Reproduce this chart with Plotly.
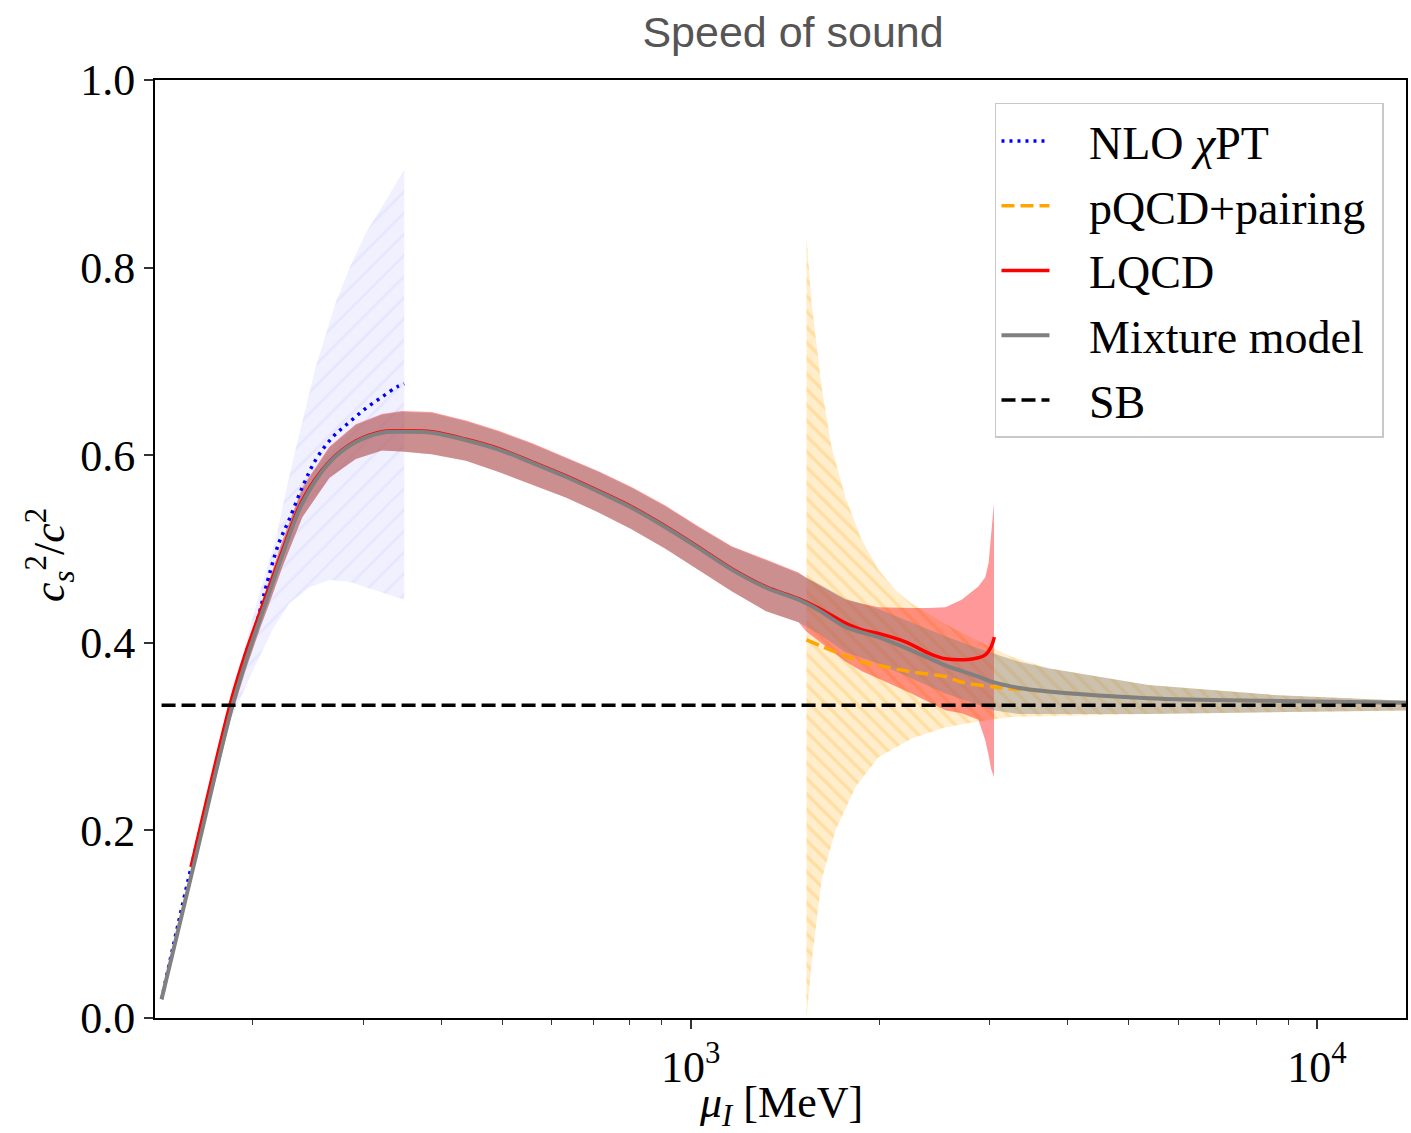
import math
import plotly.graph_objects as go

# ---------------- data ----------------
# NLO chiral perturbation theory
nlo_mu = [143, 160, 186, 195, 202, 206, 210, 220, 228.5, 240, 252, 268, 285, 303, 321.5, 340, 349]
nlo_cs2 = [0.020, 0.165, 0.339, 0.389, 0.417, 0.438, 0.460, 0.506, 0.531, 0.566, 0.595, 0.619, 0.635, 0.650, 0.662, 0.673, 0.676]
nlo_up_mu = [143, 160, 185, 195, 205, 218, 226, 234, 243, 252, 262, 272, 287, 303, 325, 349]
nlo_upper = [0.020, 0.170, 0.345, 0.400, 0.453, 0.512, 0.562, 0.606, 0.650, 0.694, 0.730, 0.765, 0.803, 0.837, 0.870, 0.904]
nlo_lo_mu = [143, 160, 185, 200, 215, 228.5, 246, 265, 285, 321, 349]
nlo_lower = [0.020, 0.160, 0.320, 0.370, 0.414, 0.442, 0.459, 0.467, 0.465, 0.454, 0.446]

# pQCD + pairing
pq_mu = [1531, 1874, 1994, 2252, 2551, 2708, 3043, 3250, 3724, 5377, 8667, 14000]
pq_cs2 = [0.403, 0.380, 0.376, 0.369, 0.364, 0.358, 0.353, 0.351, 0.348, 0.341, 0.338, 0.336]
pq_up_mu = [1531, 1560, 1618, 1678, 1767, 1874, 1995, 2123, 2252, 2551, 2880, 3250, 3724, 5377, 8667, 14000]
pq_upper = [0.832, 0.762, 0.673, 0.609, 0.555, 0.510, 0.478, 0.456, 0.442, 0.420, 0.402, 0.385, 0.373, 0.355, 0.344, 0.338]
pq_lo_mu = [1531, 1560, 1618, 1703, 1832, 1995, 2252, 2551, 2880, 3250, 5377, 8667, 14000]
pq_lower = [0.000, 0.059, 0.147, 0.200, 0.246, 0.278, 0.298, 0.310, 0.316, 0.321, 0.324, 0.326, 0.328]

# Lattice QCD
lq_mu = [159.4, 185, 195, 206, 212, 223, 240, 265, 292, 321.5, 346, 386, 438, 494, 558, 632, 713, 805, 913, 1030,
         1163, 1317, 1487, 1600, 1767, 1874, 1994, 2203, 2397, 2551, 2746, 2880, 2954, 3020, 3054]
lq_cs2 = [0.161, 0.340, 0.390, 0.435, 0.458, 0.498, 0.552, 0.593, 0.615, 0.625, 0.626, 0.625, 0.617, 0.607, 0.593, 0.578, 0.562, 0.545, 0.524, 0.502,
          0.479, 0.460, 0.447, 0.437, 0.421, 0.414, 0.410, 0.401, 0.389, 0.383, 0.382, 0.384, 0.387, 0.396, 0.406]
lq_band_mu = [159.4, 185, 195, 206, 212, 223, 240, 265, 292, 321.5, 346, 386, 438, 494, 558, 632, 713, 805, 913,
              1030, 1163, 1317, 1487, 1530, 1767, 1874, 1994, 2252, 2397, 2551, 2708, 2880, 2954, 2990, 3020, 3050]
lq_upper = [0.166, 0.346, 0.393, 0.440, 0.466, 0.509, 0.566, 0.609, 0.633, 0.644, 0.647, 0.646, 0.637, 0.626, 0.613, 0.598, 0.583, 0.566, 0.546,
            0.524, 0.503, 0.489, 0.475, 0.469, 0.446, 0.442, 0.438, 0.437, 0.437, 0.438, 0.446, 0.460, 0.470, 0.485, 0.515, 0.549]
lq_lower = [0.157, 0.323, 0.372, 0.418, 0.440, 0.481, 0.534, 0.576, 0.596, 0.605, 0.604, 0.601, 0.594, 0.582, 0.569, 0.555, 0.539, 0.521, 0.500,
            0.478, 0.455, 0.434, 0.422, 0.412, 0.380, 0.370, 0.362, 0.346, 0.337, 0.328, 0.325, 0.318, 0.296, 0.280, 0.265, 0.257]

# Mixture model
mix_mu = [143, 161, 185, 195, 206, 212, 223, 240, 265, 292, 321.5, 346, 386, 438, 494, 558, 632, 713, 805, 913,
          1030, 1163, 1317, 1487, 1600, 1767, 1994, 2252, 2551, 2880, 3043, 3335, 3724, 5377, 8667, 14000]
mix_cs2 = [0.020, 0.163, 0.330, 0.381, 0.428, 0.452, 0.494, 0.549, 0.592, 0.614, 0.624, 0.625, 0.624, 0.616, 0.606, 0.592, 0.577, 0.561, 0.544, 0.523,
           0.501, 0.478, 0.459, 0.446, 0.435, 0.417, 0.406, 0.392, 0.376, 0.364, 0.358, 0.352, 0.348, 0.341, 0.338, 0.336]
mix_upper = [0.020, 0.166, 0.337, 0.390, 0.438, 0.464, 0.507, 0.564, 0.608, 0.632, 0.643, 0.646, 0.645, 0.636, 0.625, 0.612, 0.597, 0.582, 0.565, 0.545,
             0.523, 0.502, 0.488, 0.474, 0.463, 0.447, 0.436, 0.422, 0.407, 0.394, 0.389, 0.380, 0.373, 0.355, 0.344, 0.338]
mix_lower = [0.020, 0.160, 0.323, 0.372, 0.418, 0.440, 0.481, 0.534, 0.576, 0.596, 0.605, 0.604, 0.601, 0.594, 0.582, 0.569, 0.555, 0.539, 0.521, 0.500,
             0.478, 0.455, 0.434, 0.422, 0.410, 0.390, 0.378, 0.362, 0.346, 0.334, 0.328, 0.324, 0.324, 0.324, 0.326, 0.328]

# Stefan-Boltzmann limit
sb_mu = [143, 14000]
sb_cs2 = [0.3333, 0.3333]

x_range_mu = [139.6, 13870]
y_range = [0.0, 1.0]
y_ticks = [0.0, 0.2, 0.4, 0.6, 0.8, 1.0]
x_major = [1000, 10000]
x_major_text = ["10<sup>3</sup>", "10<sup>4</sup>"]
x_minor = [200, 300, 400, 500, 600, 700, 800, 900, 2000, 3000, 4000, 5000, 6000, 7000, 8000, 9000]


# ---------------- figure ----------------
def band(xu, yu, xl, yl):
    return list(xu) + list(xl)[::-1], list(yu) + list(yl)[::-1]


fig = go.Figure()

bx, by = band(nlo_up_mu, nlo_upper, nlo_lo_mu, nlo_lower)
fig.add_trace(go.Scatter(x=bx, y=by, fill="toself", mode="lines", line=dict(width=0), showlegend=False, hoverinfo="skip",
                         fillcolor="rgba(0,0,255,0.06)",
                         fillpattern=dict(shape="/", bgcolor="rgba(0,0,255,0.06)", fgcolor="rgba(90,90,255,0.13)",
                                          size=15, solidity=0.18)))

bx, by = band(pq_up_mu, pq_upper, pq_lo_mu, pq_lower)
fig.add_trace(go.Scatter(x=bx, y=by, fill="toself", mode="lines", line=dict(width=0), showlegend=False, hoverinfo="skip",
                         fillcolor="rgba(255,165,0,0.2)",
                         fillpattern=dict(shape="\\", bgcolor="rgba(255,165,0,0.2)", fgcolor="rgba(255,165,0,0.42)",
                                          size=11, solidity=0.32)))

bx, by = band(lq_band_mu, lq_upper, lq_band_mu, lq_lower)
fig.add_trace(go.Scatter(x=bx, y=by, fill="toself", mode="lines", line=dict(width=0), showlegend=False, hoverinfo="skip",
                         fillcolor="rgba(255,0,0,0.4)"))

bx, by = band(mix_mu, mix_upper, mix_mu, mix_lower)
fig.add_trace(go.Scatter(x=bx, y=by, fill="toself", mode="lines", line=dict(width=0),
                         showlegend=False, hoverinfo="skip", fillcolor="rgba(128,128,128,0.4)"))

pad = "\u00a0\u00a0\u00a0"
tail = "\u00a0"
fig.add_trace(go.Scatter(x=nlo_mu, y=nlo_cs2, mode="lines", name=pad + "NLO <i>χ</i>PT" + tail, legendgroup="a",
                         line=dict(color="blue", width=3.5, dash="3px,5px", shape="spline")))
fig.add_trace(go.Scatter(x=pq_mu, y=pq_cs2, mode="lines", name=pad + "pQCD+pairing" + tail, legendgroup="b",
                         line=dict(color="orange", width=3.5, dash="13px,6px", shape="spline")))
fig.add_trace(go.Scatter(x=lq_mu, y=lq_cs2, mode="lines", name=pad + "LQCD" + tail, legendgroup="c",
                         line=dict(color="red", width=3.5, shape="spline")))
fig.add_trace(go.Scatter(x=mix_mu, y=mix_cs2, mode="lines", name=pad + "Mixture model" + tail, legendgroup="d",
                         line=dict(color="gray", width=4, shape="spline")))
fig.add_trace(go.Scatter(x=sb_mu, y=sb_cs2, mode="lines", name=pad + "SB" + tail, legendgroup="e",
                         line=dict(color="black", width=3.5, dash="14px,6px")))

serif = "Liberation Serif, Times New Roman, serif"

fig.update_xaxes(type="log", range=[math.log10(x_range_mu[0]), math.log10(x_range_mu[1])],
                 tickvals=x_major, ticktext=x_major_text, ticks="outside", ticklen=9, tickwidth=1.5,
                 tickcolor="#333", showline=True, linecolor="black", linewidth=2, mirror=True,
                 showgrid=False, zeroline=False,
                 tickfont=dict(family=serif, size=44, color="black"),
                 minor=dict(tickvals=x_minor, ticks="outside", ticklen=5, tickwidth=1.2, tickcolor="#333", showgrid=False))
fig.update_yaxes(range=y_range, tickvals=y_ticks, tickformat=".1f", ticks="outside", ticklen=9, tickwidth=1.5,
                 tickcolor="#333", showline=True, linecolor="black", linewidth=2, mirror=True,
                 showgrid=False, zeroline=False,
                 tickfont=dict(family=serif, size=44, color="black"))

fig.update_layout(
    width=1411, height=1133,
    margin=dict(l=155, r=3, t=80, b=115),
    plot_bgcolor="white", paper_bgcolor="white",
    title=dict(text="Speed of sound", x=0.51, xref="paper", xanchor="center",
               y=1 - 32 / 1133, yref="container", yanchor="middle",
               font=dict(family="Liberation Sans, Arial, sans-serif", size=43, color="#555555")),
    legend=dict(x=0.9824, y=0.9755, xanchor="right", yanchor="top", bordercolor="#c8c8c8", borderwidth=1.5,
                bgcolor="rgba(255,255,255,0.8)", font=dict(family=serif, size=46, color="black"),
                traceorder="grouped", tracegroupgap=2, itemwidth=48),
    annotations=[
        dict(text="<i>c</i><sub><i>s</i></sub><sup>2</sup>/<i>c</i><sup>2</sup>", xref="paper", yref="paper",
             x=-0.084, y=0.4936, xanchor="center", yanchor="middle", textangle=-90, showarrow=False,
             font=dict(family=serif, size=44, color="black")),
        dict(text="<i>μ</i><sub><i>I</i></sub> [MeV]", xref="paper", yref="paper",
             x=0.5, y=-0.0928, xanchor="center", yanchor="middle", showarrow=False,
             font=dict(family=serif, size=44, color="black")),
    ],
)

fig.write_html("out.html", config={"displayModeBar": False},
               post_script="document.body.style.margin='0px';document.body.style.overflow='hidden';")
